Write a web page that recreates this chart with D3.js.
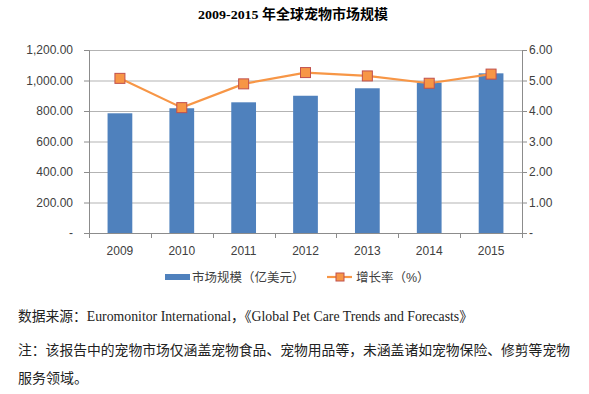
<!DOCTYPE html>
<html>
<head>
<meta charset="utf-8">
<script src="https://cdn.jsdelivr.net/npm/d3@7"></script>
<style>
  body { margin: 0; background: #fff; }
  svg { display: block; }
</style>
</head>
<body>
<div id="chart"></div>
<script>
  const years = ["2009", "2010", "2011", "2012", "2013", "2014", "2015"];
  const marketSize = [785, 818, 857, 900, 949, 986, 1047];
  const growthRate = [5.07, 4.11, 4.89, 5.26, 5.15, 4.91, 5.21];
  const leftTicks = [0, 200, 400, 600, 800, 1000, 1200];
  const rightTicks = [0, 1, 2, 3, 4, 5, 6];
  const barLabel = "市场规模（亿美元）";
  const lineLabel = "增长率（%）";
  const title = "2009-2015 年全球宠物市场规模";
  const notes = [
    "数据来源：Euromonitor International，《Global Pet Care Trends and Forecasts》",
    "注：该报告中的宠物市场仅涵盖宠物食品、宠物用品等，未涵盖诸如宠物保险、修剪等宠物",
    "服务领域。"
  ];

  const width = 589;
  const height = 394;
  const plot = { left: 89, right: 522, top: 50, bottom: 233 };
  const axisColor = "#8c8c8c";
  const gridColor = "#b3b3b3";
  const barColor = "#4f81bd";
  const lineColor = "#f79646";
  const chartFont = "'Liberation Sans', 'Noto Sans CJK SC', sans-serif";
  const serifFont = "'Liberation Serif', 'Noto Sans CJK SC', serif";

  const svg = d3.select("#chart").append("svg")
    .attr("width", width)
    .attr("height", height);

  const x = d3.scaleBand()
    .domain(years)
    .range([plot.left, plot.right])
    .paddingInner(0.6)
    .paddingOuter(0.3);

  const xOuter = d3.scaleBand().domain(years).range([plot.left, plot.right]);

  const yLeft = d3.scaleLinear().domain([0, 1200]).range([plot.bottom, plot.top]);
  const yRight = d3.scaleLinear().domain([0, 6]).range([plot.bottom, plot.top]);

  const fmtLeft = d => d === 0 ? "-" : d3.format(",.2f")(d);
  const fmtRight = d => d === 0 ? "-" : d3.format(".2f")(d);

  // title
  svg.append("text")
    .attr("x", 198)
    .attr("y", 19)
    .attr("textLength", 190)
    .attr("lengthAdjust", "spacingAndGlyphs")
    .style("font-family", serifFont)
    .style("font-weight", "bold")
    .style("font-size", "13.5px")
    .text(title);

  // gridlines
  svg.append("g")
    .selectAll("line")
    .data(leftTicks.slice(1))
    .join("line")
    .attr("x1", plot.left)
    .attr("x2", plot.right)
    .attr("y1", d => yLeft(d) + 0.5)
    .attr("y2", d => yLeft(d) + 0.5)
    .attr("stroke", gridColor)
    .attr("stroke-width", 1);

  // bars
  svg.append("g")
    .selectAll("rect")
    .data(years)
    .join("rect")
    .attr("x", d => x(d))
    .attr("width", x.bandwidth())
    .attr("y", (d, i) => yLeft(marketSize[i]))
    .attr("height", (d, i) => yLeft(0) - yLeft(marketSize[i]))
    .attr("fill", barColor);

  // axes
  const leftAxis = svg.append("g")
    .attr("transform", `translate(${plot.left},0)`)
    .call(d3.axisLeft(yLeft).tickValues(leftTicks).tickFormat(fmtLeft).tickSizeOuter(0).tickSize(5).tickPadding(11));

  const rightAxis = svg.append("g")
    .attr("transform", `translate(${plot.right},0)`)
    .call(d3.axisRight(yRight).tickValues(rightTicks).tickFormat(fmtRight).tickSizeOuter(0).tickSize(5).tickPadding(2));

  const bottomAxis = svg.append("g")
    .attr("transform", `translate(0,${plot.bottom})`)
    .call(d3.axisBottom(xOuter).tickSize(0).tickPadding(13));

  // category boundary ticks
  const bounds = years.map(d => xOuter(d)).concat([plot.right]);
  svg.append("g")
    .selectAll("line")
    .data(bounds)
    .join("line")
    .attr("x1", d => Math.round(d) + 0.5)
    .attr("x2", d => Math.round(d) + 0.5)
    .attr("y1", plot.bottom)
    .attr("y2", plot.bottom + 5)
    .attr("stroke", axisColor);

  [leftAxis, rightAxis, bottomAxis].forEach(g => {
    g.selectAll("path, line").attr("stroke", axisColor);
    g.selectAll("text")
      .style("font-family", chartFont)
      .style("font-size", "12px")
      .attr("fill", "#404040");
  });

  // growth line
  const line = d3.line()
    .x((d, i) => xOuter(years[i]) + xOuter.bandwidth() / 2)
    .y(d => yRight(d));

  svg.append("path")
    .datum(growthRate)
    .attr("d", line)
    .attr("fill", "none")
    .attr("stroke", lineColor)
    .attr("stroke-width", 2.2);

  svg.append("g")
    .selectAll("rect")
    .data(growthRate)
    .join("rect")
    .attr("x", (d, i) => xOuter(years[i]) + xOuter.bandwidth() / 2 - 5)
    .attr("y", d => yRight(d) - 5)
    .attr("width", 10)
    .attr("height", 10)
    .attr("fill", lineColor)
    .attr("stroke", "#c0504d")
    .attr("stroke-width", 1);

  // legend
  const legend = svg.append("g")
    .style("font-family", chartFont)
    .style("font-size", "12.5px");

  legend.append("rect")
    .attr("x", 165).attr("y", 274).attr("width", 25).attr("height", 6)
    .attr("fill", barColor);
  legend.append("text")
    .attr("x", 192).attr("y", 282)
    .attr("fill", "#404040")
    .text(barLabel);

  legend.append("line")
    .attr("x1", 327).attr("x2", 352).attr("y1", 277).attr("y2", 277)
    .attr("stroke", lineColor).attr("stroke-width", 2.2);
  legend.append("rect")
    .attr("x", 336).attr("y", 273).attr("width", 8).attr("height", 8)
    .attr("fill", lineColor).attr("stroke", "#c0504d");
  legend.append("text")
    .attr("x", 356).attr("y", 282)
    .attr("fill", "#404040")
    .text(lineLabel);

  // notes
  const noteWidths = [455, 552, null];
  svg.append("g")
    .selectAll("text")
    .data(notes)
    .join("text")
    .attr("x", 18)
    .attr("y", (d, i) => [321, 355, 383][i])
    .attr("textLength", (d, i) => noteWidths[i])
    .attr("lengthAdjust", "spacingAndGlyphs")
    .style("font-family", serifFont)
    .style("font-size", "14px")
    .attr("fill", "#222")
    .text(d => d);
</script>
</body>
</html>
